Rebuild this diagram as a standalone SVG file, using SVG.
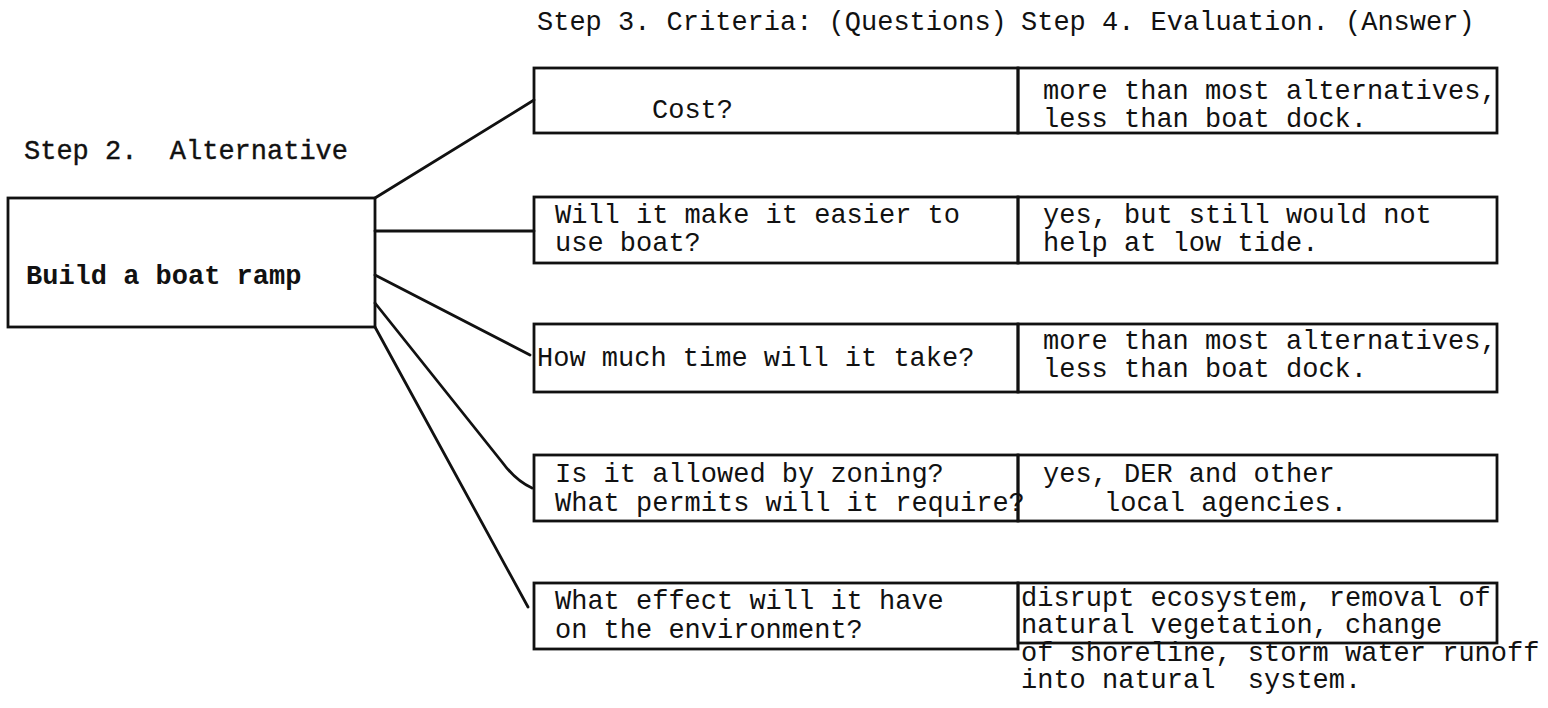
<svg xmlns="http://www.w3.org/2000/svg" width="1548" height="708" viewBox="0 0 1548 708">
<style>
.t{font-family:"Liberation Mono","DejaVu Sans Mono",monospace;font-size:28px;fill:#111;white-space:pre}
.s{stroke:#111;stroke-width:0.4}
.b{font-weight:bold}
.box{fill:none;stroke:#111;stroke-width:2.8}
.c{fill:none;stroke:#111;stroke-width:2.8;stroke-linecap:round;stroke-linejoin:round}
</style>
<rect width="1548" height="708" fill="#fff"/>
<g id="headers">
<text class="t" x="537" y="30" textLength="469.8" lengthAdjust="spacingAndGlyphs">Step 3. Criteria: (Questions)</text>
<text class="t" x="1021" y="30" textLength="453.6" lengthAdjust="spacingAndGlyphs">Step 4. Evaluation. (Answer)</text>
</g>
<g id="step2">
<text class="t s" x="24" y="159" textLength="324" lengthAdjust="spacingAndGlyphs">Step 2.  Alternative</text>
</g>
<g id="alternative">
<rect class="box" x="8" y="198" width="367" height="129"/>
<text class="t b" x="26" y="284" textLength="275.4" lengthAdjust="spacingAndGlyphs">Build a boat ramp</text>
</g>
<g id="connectors">
<path class="c" d="M375,198 L534,100"/>
<path class="c" d="M375,231 L534,231"/>
<path class="c" d="M375,275 L530,355"/>
<path class="c" d="M375,303 L502,462 Q516,481 532,488"/>
<path class="c" d="M375,327 L528,607"/>
</g>
<g id="q1">
<rect class="box" x="534" y="68" width="484" height="65"/>
<text class="t" x="652" y="118" textLength="81" lengthAdjust="spacingAndGlyphs">Cost?</text>
</g>
<g id="a1">
<rect class="box" x="1018" y="68" width="479" height="65"/>
<text class="t" x="1043" y="99" textLength="453.6" lengthAdjust="spacingAndGlyphs">more than most alternatives,</text>
<text class="t" x="1043" y="127" textLength="324" lengthAdjust="spacingAndGlyphs">less than boat dock.</text>
</g>
<g id="q2">
<rect class="box" x="534" y="197" width="484" height="66"/>
<text class="t" x="555" y="223" textLength="405" lengthAdjust="spacingAndGlyphs">Will it make it easier to</text>
<text class="t" x="555" y="251" textLength="145.8" lengthAdjust="spacingAndGlyphs">use boat?</text>
</g>
<g id="a2">
<rect class="box" x="1018" y="197" width="479" height="66"/>
<text class="t" x="1043" y="223" textLength="388.8" lengthAdjust="spacingAndGlyphs">yes, but still would not</text>
<text class="t" x="1043" y="251" textLength="275.4" lengthAdjust="spacingAndGlyphs">help at low tide.</text>
</g>
<g id="q3">
<rect class="box" x="534" y="324" width="484" height="68"/>
<text class="t" x="537" y="366" textLength="437.4" lengthAdjust="spacingAndGlyphs">How much time will it take?</text>
</g>
<g id="a3">
<rect class="box" x="1018" y="324" width="479" height="68"/>
<text class="t" x="1043" y="349" textLength="453.6" lengthAdjust="spacingAndGlyphs">more than most alternatives,</text>
<text class="t" x="1043" y="377" textLength="324" lengthAdjust="spacingAndGlyphs">less than boat dock.</text>
</g>
<g id="q4">
<rect class="box" x="534" y="455" width="484" height="66"/>
<text class="t" x="555" y="482" textLength="388.8" lengthAdjust="spacingAndGlyphs">Is it allowed by zoning?</text>
<text class="t" x="555" y="511" textLength="469.8" lengthAdjust="spacingAndGlyphs">What permits will it require?</text>
</g>
<g id="a4">
<rect class="box" x="1018" y="455" width="479" height="66"/>
<text class="t" x="1043" y="482" textLength="291.6" lengthAdjust="spacingAndGlyphs">yes, DER and other</text>
<text class="t" x="1104" y="511" textLength="243" lengthAdjust="spacingAndGlyphs">local agencies.</text>
</g>
<g id="q5">
<rect class="box" x="534" y="583" width="484" height="66"/>
<text class="t" x="555" y="609" textLength="388.8" lengthAdjust="spacingAndGlyphs">What effect will it have</text>
<text class="t" x="555" y="638" textLength="307.8" lengthAdjust="spacingAndGlyphs">on the environment?</text>
</g>
<g id="a5">
<rect class="box" x="1018" y="583" width="479" height="60"/>
<text class="t" x="1021" y="606" textLength="469.8" lengthAdjust="spacingAndGlyphs">disrupt ecosystem, removal of</text>
<text class="t" x="1021" y="633" textLength="421.2" lengthAdjust="spacingAndGlyphs">natural vegetation, change</text>
<text class="t" x="1021" y="661" textLength="518.4" lengthAdjust="spacingAndGlyphs">of shoreline, storm water runoff</text>
<text class="t" x="1021" y="688" textLength="340.2" lengthAdjust="spacingAndGlyphs">into natural  system.</text>
</g>
</svg>
